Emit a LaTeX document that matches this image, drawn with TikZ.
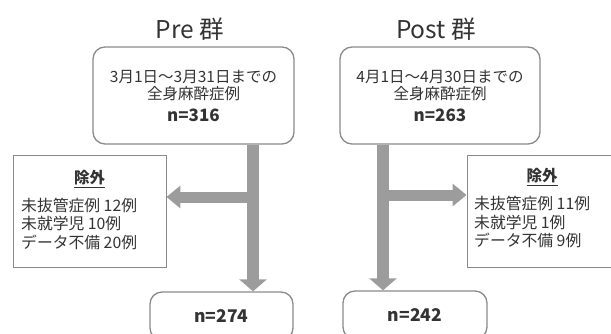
\documentclass[tikz,border=0pt]{standalone}
\usepackage{fontspec}
\setmainfont{Noto Sans CJK JP}
\usetikzlibrary{arrows.meta}
\definecolor{boxline}{HTML}{8A8A8A}
\definecolor{arr}{HTML}{9C9C9C}
\definecolor{txt}{HTML}{333333}
\begin{document}
\begin{tikzpicture}[x=1pt,y=-1pt,
  rbox/.style={draw=boxline, line width=1.3pt, rounded corners=12pt, inner sep=0pt, text=txt, align=center,
    font=\fontsize{15.5}{17.5}\selectfont},
  ebox/.style={draw=boxline, line width=0.9pt, inner sep=0pt},
  title/.style={text=txt, font=\fontsize{24.5}{28}\selectfont, inner sep=0pt},
  extext/.style={text=txt, align=left, anchor=west, inner sep=0pt, font=\fontsize{15.8}{18.5}\selectfont},
  exhead/.style={text=txt, inner sep=0pt, font=\fontsize{15.5}{18}\selectfont\bfseries},
  botbox/.style={rbox, font=\fontsize{17.5}{20}\selectfont\bfseries},
  varr/.style={draw=arr, line width=12pt, -{Triangle[width=27pt,length=12pt]}},
  harr/.style={draw=arr, line width=11pt, -{Triangle[width=22pt,length=14pt]}}]
\useasboundingbox (0,0) rectangle (611,333);
\clip (0,0) rectangle (611,333);
% titles
\node[title] (pretitle) at (190,29) {Pre 群};
\node[title] (posttitle) at (436,29) {Post 群};
% top boxes
\node[rbox, minimum width=201pt, minimum height=97pt] (pretop) at (193.5,95.5)
  {3月1日～3月31日までの\\全身麻酔症例\\[4pt]{\fontsize{17}{20}\selectfont\bfseries n=316}};
\node[rbox, minimum width=200pt, minimum height=97pt] (posttop) at (440,95.5)
  {4月1日～4月30日までの\\全身麻酔症例\\[4pt]{\fontsize{17}{20}\selectfont\bfseries n=263}};
% bottom boxes
\node[botbox, minimum width=143pt, minimum height=48pt] (prebot) at (221.5,316) {n=274};
\node[botbox, minimum width=144pt, minimum height=48pt] (postbot) at (415,315) {n=242};
% exclusion boxes
\node[ebox, minimum width=153pt, minimum height=112pt] (preex) at (89.5,211) {};
\node[exhead] (preexh) at (89.5,179) {\underline{除外}};
\node[extext] (preext) at (21,223.5) {未抜管症例 12例\\未就学児 10例\\データ不備 20例};
\node[ebox, minimum width=150pt, minimum height=112pt] (postex) at (542,211) {};
\node[exhead] (postexh) at (542,177) {\underline{除外}};
\node[extext] (postext) at (474,222) {未抜管症例 11例\\未就学児 1例\\データ不備 9例};
% arrows
\coordinate (pj) at (253,197);
\coordinate (qj) at (383,195);
\draw[varr] (pretop.south -| pj) -- (prebot.north -| pj);
\draw[harr] (pj) -- (preex.east |- pj);
\draw[varr] (posttop.south -| qj) -- (postbot.north -| qj);
\draw[harr] (qj) -- (postex.west |- qj);
\end{tikzpicture}
\end{document}
